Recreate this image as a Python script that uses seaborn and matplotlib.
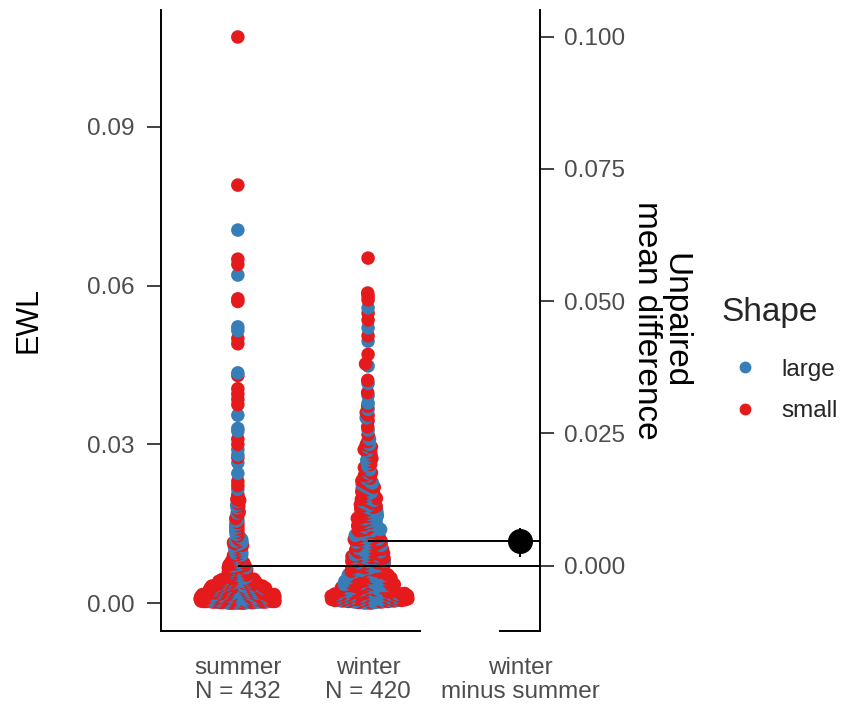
import numpy as np
import pandas as pd
import matplotlib
matplotlib.use('Agg')
import matplotlib.pyplot as plt
from matplotlib.lines import Line2D
from matplotlib.ticker import FormatStrFormatter
import seaborn as sns

# EWL per individual, in units of 1e-4 (read off the swarms, dense parts estimated)
summer_large = [
    0, 0, 0, 0, 1, 1, 1, 1, 2, 2, 2, 2, 3, 3, 3, 3, 4, 4, 4, 4, 5, 5, 5, 5,
    6, 6, 6, 6, 7, 7, 7, 7, 8, 8, 8, 8, 9, 9, 9, 9, 10, 10, 10, 10,
    11, 11, 11, 11, 12, 12, 12, 12, 13, 13, 13, 13, 14, 14, 14, 14,
    15, 15, 15, 15, 16, 16, 16, 17, 17, 17, 18, 18, 18, 19, 19, 19,
    20, 20, 20, 21, 21, 21,
    22, 22, 22, 23, 23, 23, 24, 24, 24, 25, 25, 25, 26, 26, 26, 27, 27, 27,
    28, 28, 28, 29, 29, 29, 30, 30, 30, 31, 31, 31, 32, 32, 33, 33, 34, 34,
    35, 35, 36, 36, 37, 37, 38, 38, 39, 39, 40, 40, 41, 41, 42, 42, 43, 43,
    44, 44, 45,
    46, 47, 48, 49, 50, 51, 52, 53, 54, 55, 56, 57, 58, 59, 60, 61, 62, 63,
    64, 65, 66, 67, 68, 70, 71, 72, 73, 75,
    77, 79, 82, 84, 87, 89, 91, 94, 96, 99, 101, 104, 106, 108, 111, 113,
    115, 117, 120,
    124, 130, 136, 142, 148, 155,
    158, 170, 180, 185, 192,
    215, 245, 265, 280, 290, 325, 330, 355, 435, 515, 522, 620, 705,
]
summer_small = [
    0, 0, 0, 0, 1, 1, 1, 1, 2, 2, 2, 2, 3, 3, 3, 3, 4, 4, 4, 4, 5, 5, 5, 5,
    6, 6, 6, 6, 7, 7, 7, 7, 8, 8, 8, 8, 9, 9, 9, 9, 10, 10, 10, 10,
    11, 11, 11, 11, 12, 12, 12, 12, 13, 13, 13, 13, 14, 14, 14, 14,
    15, 15, 15, 15, 16, 16, 16, 16, 17, 17, 17, 18, 18, 18, 19, 19, 19,
    20, 20, 20, 21, 21, 21,
    22, 22, 22, 23, 23, 23, 24, 24, 24, 25, 25, 25, 26, 26, 26, 27, 27, 27,
    28, 28, 28, 29, 29, 29, 30, 30, 30, 31, 31, 32, 32, 32, 33, 33, 34, 34,
    35, 35, 36, 36, 37, 37, 38, 38, 39, 39, 40, 40, 41, 41, 42, 42, 43, 43,
    44, 44, 45,
    46, 47, 48, 49, 50, 51, 52, 53, 54, 55, 56, 57, 58, 59, 60, 61, 62, 63,
    64, 65, 66, 67, 68, 69, 70, 71, 72, 74, 75,
    76, 78, 80, 83, 85, 88, 90, 92, 95, 97, 100, 102, 105, 107, 109, 112,
    114, 116, 119,
    122, 127, 134, 140, 146, 152,
    160, 166, 172, 176, 183, 188, 194, 196,
    200, 205, 222, 230, 275, 300, 310, 375, 385, 395, 405, 430, 490, 500,
    570, 575, 640, 650, 790, 1070,
]
winter_large = [
    0, 0, 1, 1, 2, 2, 3, 3, 4, 4, 5, 5, 6, 6, 7, 7, 8, 8, 9, 9, 10, 10,
    11, 11, 12, 12, 13, 13, 14, 14, 15, 15, 16, 16, 17, 17, 18, 18, 19,
    20, 20, 21,
    22, 23, 24, 24, 25, 26, 27, 27, 28, 29, 30, 30, 31, 32, 33, 33, 34, 35,
    36, 37, 37, 38, 39, 40, 41, 42, 42, 43, 44, 45, 46, 47, 48, 49, 50,
    51, 52, 53, 55, 56, 57, 59, 60, 61, 62, 64, 65, 66, 67, 69, 70, 71, 72,
    74, 75, 76, 78, 79, 80, 81, 83, 84, 85, 86, 88, 89, 90,
    91, 93, 94, 96, 97, 99, 100, 102, 103, 105, 106, 108, 109, 111, 112,
    114, 115, 117, 118, 120, 121, 123, 124, 126, 128, 130,
    131, 133, 135, 137, 139, 141, 143, 145, 147, 149, 151, 153, 155, 157,
    159, 161, 163, 165, 167, 169, 171, 173, 175, 177, 179,
    182, 185, 188, 191, 194, 197, 200, 203, 206, 209, 212, 215, 218, 221,
    224, 227, 230,
    234, 240, 246, 252, 258, 264, 270, 276, 282, 288, 294, 300,
    310, 327, 350, 366, 378,
    392, 415, 448, 495,
    520, 558,
]
winter_small = [
    0, 1, 2, 3, 3, 4, 4, 5, 5, 6, 6, 7, 7, 8, 8, 9, 9, 10, 10, 11, 11,
    12, 12, 13, 13, 14, 14, 15, 15, 16, 16, 17, 17, 18, 18, 19, 19, 20, 21, 21,
    22, 23, 23, 24, 25, 25, 26, 27, 28, 28, 29, 30, 31, 31, 32, 33, 34, 34,
    35, 36, 36, 37, 38, 39, 40, 40, 41, 42, 43, 44, 44, 45, 46, 47, 48, 48,
    49, 50,
    51, 52, 53, 54, 55, 56, 57, 58, 59, 60, 61, 62, 64, 65, 66, 67, 69, 70,
    71, 72, 74, 75, 76, 77, 78, 79, 80, 81, 83, 84, 85, 86, 87, 88, 89, 90,
    92, 93, 94, 95, 96, 98, 99, 100, 101, 102, 104, 105, 107, 108, 110, 111,
    113, 114, 116, 117, 118, 119, 120, 122, 123, 125, 126, 127, 129,
    132, 134, 136, 137, 138, 140, 142, 144, 146, 148, 150, 152, 154, 156,
    158, 160, 162, 164, 166, 168, 170, 172, 174, 176, 178, 180,
    181, 183, 184, 186, 189, 192, 195, 196, 198, 201, 204, 207, 210, 213,
    216, 219, 222, 225, 228,
    231, 236, 241, 246, 251, 256, 262, 268, 273, 279, 285, 290, 295, 299,
    305, 318, 333, 345, 355, 360, 372,
    398, 421, 452, 470, 505,
    535, 548, 573, 580, 586, 652,
]

seasons = ['summer', 'winter']
shapes = ['large', 'small']
shape_colors = {'large': '#377EB8', 'small': '#E41A1C'}
delta_label = 'winter\nminus summer'
delta_ci = [0.0017, 0.0071]  # whiskers of the black dot
left_ticks = [0, 0.03, 0.06, 0.09]
right_ticks = [0, 0.025, 0.05, 0.075, 0.1]

groups = {
    ('summer', 'large'): summer_large,
    ('summer', 'small'): summer_small,
    ('winter', 'large'): winter_large,
    ('winter', 'small'): winter_small,
}
df = pd.concat([
    pd.DataFrame({'Season': s, 'Shape': sh, 'EWL': np.array(v) / 1e4})
    for (s, sh), v in groups.items()
])
# sort so the two colours interleave in draw order
df = df.sort_values('EWL', kind='mergesort').reset_index(drop=True)

means = df.groupby('Season')['EWL'].mean()
counts = df.groupby('Season').size()
diff = means['winter'] - means['summer']

sns.set_style('white')
plt.rcParams['font.family'] = ['Liberation Sans', 'DejaVu Sans']

fig = plt.figure(figsize=(8.46, 7.09), dpi=100)
ax = fig.add_axes([0.1903, 0.1104, 0.448, 0.8755])

xlim = (-0.59, 2.32)
ylim = (-0.00524, 0.1121)
delta_x = 2.17

# beeswarm is laid out with a small marker, then the dots are drawn larger
# so they pile up like the original
layout_size = {'summer': 1.6, 'winter': 2.3}
for s in seasons:
    sns.swarmplot(data=df[df['Season'] == s], x='Season', y='EWL', hue='Shape',
                  order=seasons, hue_order=shapes, palette=shape_colors,
                  size=layout_size[s], linewidth=0, legend=False, ax=ax)

ax.set_xlim(xlim)
ax.set_ylim(ylim)
fig.canvas.draw()
for pts in ax.collections:
    pts.__dict__.pop('draw', None)
    pts.set_sizes([95])

# group means -> effect axis
ax.hlines(means['summer'], 0, xlim[1], color='black', lw=1.4, zorder=4)
ax.hlines(means['winter'], 1, xlim[1], color='black', lw=1.4, zorder=4)

ax2 = ax.twinx()
ax2.set_ylim(ylim[0] - means['summer'], ylim[1] - means['summer'])
ax2.vlines(delta_x, delta_ci[0], delta_ci[1], color='black', lw=1.5)
ax2.plot([delta_x], [diff], 'o', color='black', ms=17)

tick_col = '#4D4D4D'
ax.set_xticks([0, 1, delta_x])
ax.set_xticklabels([f'{s}\nN = {counts[s]}' for s in seasons] + [delta_label],
                   linespacing=1.12)
ax.tick_params(axis='x', length=0, pad=19, labelsize=17.5, labelcolor=tick_col)
ax.set_xlabel('')

ax.set_yticks(left_ticks)
ax.yaxis.set_major_formatter(FormatStrFormatter('%.2f'))
ax.tick_params(axis='y', left=True, length=10, width=1.3, color='#333333',
               labelsize=17.5, labelcolor=tick_col, pad=9)
ax.set_ylabel('EWL', fontsize=22, color='black')
ax.yaxis.set_label_coords(-0.309, 0.5)

ax2.set_yticks(right_ticks)
ax2.yaxis.set_major_formatter(FormatStrFormatter('%.3f'))
ax2.tick_params(axis='y', right=True, length=10, width=1.3, color='#333333',
                labelsize=17.5, labelcolor=tick_col, pad=7)
ax2.set_ylabel('Unpaired\nmean difference', fontsize=24, color='black',
               rotation=-90, va='bottom', linespacing=0.9)
ax2.yaxis.set_label_coords(1.24, 0.5)

for a in (ax, ax2):
    for sp in a.spines.values():
        sp.set_color('black')
        sp.set_linewidth(1.4)
ax.spines['top'].set_visible(False)
ax.spines['right'].set_visible(False)
ax.spines['bottom'].set_bounds(xlim[0], 1.40)
ax2.spines['top'].set_visible(False)
ax2.spines['left'].set_visible(False)
ax2.spines['bottom'].set_bounds(2.01, xlim[1])

handles = [Line2D([], [], ls='', marker='o', ms=7.5, color=shape_colors[s])
           for s in shapes]
leg = fig.legend(handles, shapes, title='Shape', loc='upper left',
                 bbox_to_anchor=(0.853, 0.581), frameon=False, borderpad=0,
                 borderaxespad=0, fontsize=17.5, title_fontsize=24,
                 labelspacing=0.8, handlelength=1.9, handletextpad=0.55,
                 alignment='left')
leg._legend_box.sep = 22  # more room under the title

fig.savefig('out.png', dpi=100)
